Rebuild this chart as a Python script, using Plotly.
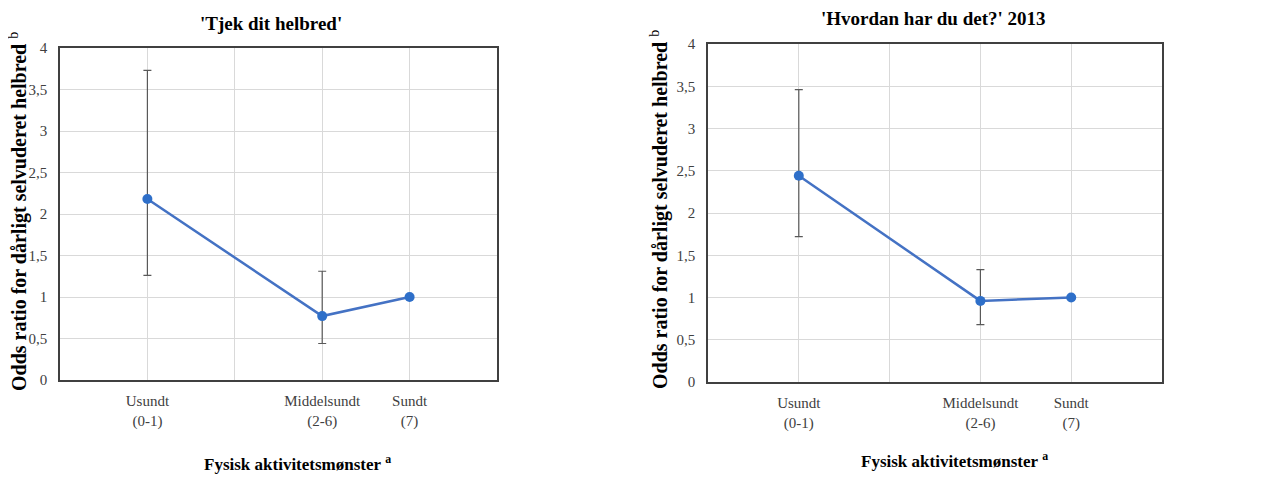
import plotly.graph_objects as go
from plotly.subplots import make_subplots

categories = ["Usundt<br>(0-1)", "Middelsundt<br>(2-6)", "Sundt<br>(7)"]
cat_pos = [1, 3, 4]
grid_vals = [1, 2, 3, 4]
grid_text = ["Usundt<br>(0-1)", "", "Middelsundt<br>(2-6)", "Sundt<br>(7)"]

tjek_or = [2.18, 0.77, 1.0]
tjek_lo = [1.26, 0.44, 1.0]
tjek_hi = [3.73, 1.31, 1.0]

hvordan_or = [2.44, 0.96, 1.0]
hvordan_lo = [1.72, 0.68, 1.0]
hvordan_hi = [3.46, 1.33, 1.0]

titles = ["'Tjek dit helbred'", "'Hvordan har du det?' 2013"]
y_ticks = [0, 0.5, 1, 1.5, 2, 2.5, 3, 3.5, 4]
y_ticktext = ["0", "0,5", "1", "1,5", "2", "2,5", "3", "3,5", "4"]

FONT = "Liberation Serif, Times New Roman, serif"
W, H = 1261, 478
OFF = 8  # page body margin


def px(x):
    return (x - OFF) / W


def py(y):
    return 1 - (y - OFF) / H


fig = make_subplots(rows=1, cols=2)

series = [(tjek_or, tjek_lo, tjek_hi), (hvordan_or, hvordan_lo, hvordan_hi)]
for i, (orv, lo, hi) in enumerate(series, start=1):
    fig.add_trace(go.Scatter(
        x=cat_pos, y=orv, mode="lines+markers",
        line=dict(color="#4472C4", width=2.5),
        marker=dict(color="#2E6FC9", size=10),
        error_y=dict(type="data", symmetric=False,
                     array=[h - o for h, o in zip(hi, orv)],
                     arrayminus=[o - l for o, l in zip(orv, lo)],
                     color="#595959", thickness=1.2, width=4),
        showlegend=False), row=1, col=i)

fig.update_layout(
    xaxis=dict(domain=[px(60), px(497)]),
    xaxis2=dict(domain=[px(708), px(1162)]),
    yaxis=dict(domain=[py(380), py(48)]),
    yaxis2=dict(domain=[py(382), py(44)]),
)
fig.update_xaxes(range=[0, 5], tickmode="array", tickvals=grid_vals, ticktext=grid_text,
                 showgrid=True, gridcolor="#d9d9d9", gridwidth=1,
                 showline=True, linecolor="#404040", linewidth=2, mirror=True,
                 zeroline=False, ticks="", ticklabelstandoff=6, automargin=False,
                 tickfont=dict(family=FONT, size=15, color="#404040"))
fig.update_yaxes(range=[0, 4], tickmode="array", tickvals=y_ticks, ticktext=y_ticktext,
                 showgrid=True, gridcolor="#d9d9d9", gridwidth=1,
                 showline=True, linecolor="#404040", linewidth=1.5, mirror=True,
                 zeroline=False, ticks="", ticklabelstandoff=8, automargin=False,
                 tickfont=dict(family=FONT, size=15, color="#404040"))

annots = [
    dict(text="<b>" + titles[0] + "</b>", x=271, y=24, size=19, angle=0),
    dict(text="<b>" + titles[1] + "</b>", x=934, y=18, size=19, angle=0),
    dict(text="<b>Fysisk aktivitetsmønster</b> <sup><b>a</b></sup>", x=297, y=463, size=17, angle=0),
    dict(text="<b>Fysisk aktivitetsmønster</b> <sup><b>a</b></sup>", x=954, y=460, size=17, angle=0),
    dict(text="<b>Odds ratio for dårligt selvuderet helbred</b> <sup>b</sup>", x=18, y=212, size=20, angle=-90),
    dict(text="<b>Odds ratio for dårligt selvuderet helbred</b> <sup>b</sup>", x=660, y=210, size=20, angle=-90),
]
for a in annots:
    fig.add_annotation(text=a["text"], x=px(a["x"]), y=py(a["y"]),
                       xref="paper", yref="paper", showarrow=False,
                       xanchor="center", yanchor="middle", textangle=a["angle"],
                       font=dict(family=FONT, color="#000000", size=a["size"]))

fig.update_layout(width=W, height=H, margin=dict(l=0, r=0, t=0, b=0, autoexpand=False),
                  font=dict(family=FONT, color="#404040"),
                  paper_bgcolor="white", plot_bgcolor="white")
fig.write_html("out.html")
